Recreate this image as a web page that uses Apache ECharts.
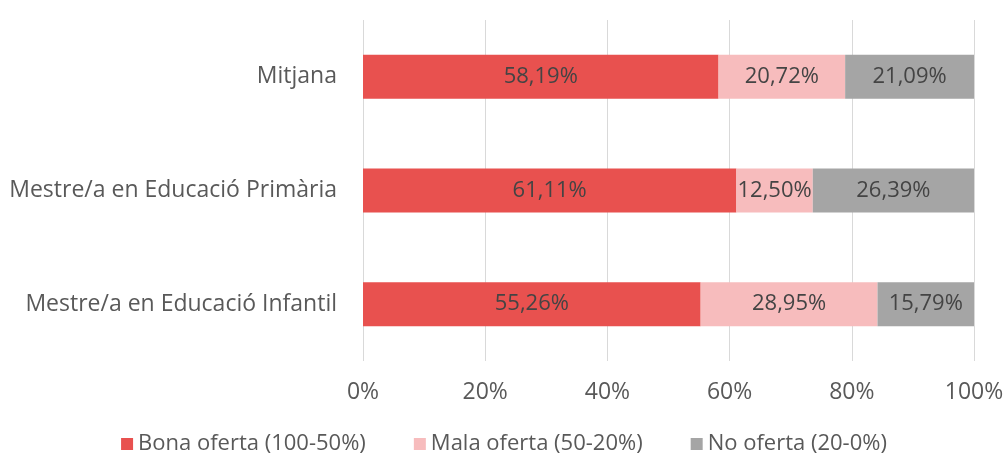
<!DOCTYPE html>
<html>
<head>
<meta charset="utf-8">
<script src="https://cdn.jsdelivr.net/npm/echarts@6/dist/echarts.min.js"></script>
<style>
  html, body { margin: 0; padding: 0; background: #fff; }
  #chart { width: 1008px; height: 463px; }
</style>
</head>
<body>
<div id="chart"></div>
<script>
var categories = ['Mestre/a en Educació Infantil', 'Mestre/a en Educació Primària', 'Mitjana'];
var seriesNames = ['Bona oferta (100-50%)', 'Mala oferta (50-20%)', 'No oferta (20-0%)'];
var bona = [55.26, 61.11, 58.19];
var mala = [28.95, 12.50, 20.72];
var noOferta = [15.79, 26.39, 21.09];
var colors = ['#E8514F', '#F7BCBD', '#A5A5A5'];

var font = '"Open Sans", "Liberation Sans", sans-serif';

function pct(p) {
    return p.value.toFixed(2).replace('.', ',') + '%';
}

function makeSeries(name, data, color) {
    return {
        name: name,
        type: 'bar',
        stack: 'total',
        data: data,
        barWidth: 44,
        itemStyle: { color: color },
        label: {
            show: true,
            position: 'inside',
            color: '#444444',
            fontFamily: font,
            fontSize: 22,
            formatter: pct
        }
    };
}

var chart = echarts.init(document.getElementById('chart'));
var option = {
    animation: false,
    color: colors,
    grid: { left: 363, right: 34, top: 20, bottom: 102, containLabel: false },
    legend: {
        top: 428,
        left: 'center',
        itemWidth: 12,
        itemHeight: 12,
        itemGap: 48,
        icon: 'rect',
        textStyle: { fontFamily: font, fontSize: 22, color: '#595959' },
        data: seriesNames
    },
    xAxis: {
        type: 'value',
        min: 0,
        max: 100,
        interval: 20,
        axisLine: { show: false },
        axisTick: { show: false },
        splitLine: { lineStyle: { color: '#D9D9D9' } },
        axisLabel: {
            margin: 20,
            fontFamily: font,
            fontSize: 23,
            color: '#595959',
            formatter: '{value}%'
        }
    },
    yAxis: {
        type: 'category',
        data: categories,
        axisLine: { show: false },
        axisTick: { show: false },
        axisLabel: {
            margin: 26,
            fontFamily: font,
            fontSize: 23,
            color: '#595959'
        }
    },
    series: [
        makeSeries(seriesNames[0], bona, colors[0]),
        makeSeries(seriesNames[1], mala, colors[1]),
        makeSeries(seriesNames[2], noOferta, colors[2])
    ]
};
chart.setOption(option);
</script>
</body>
</html>
